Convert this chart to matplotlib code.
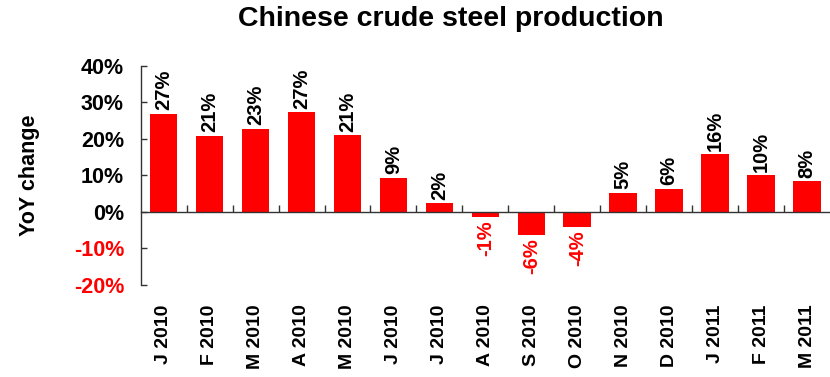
import matplotlib.pyplot as plt
import numpy as np
from matplotlib.ticker import FuncFormatter

plt.rcParams['font.family'] = ['Liberation Sans', 'DejaVu Sans']
plt.rcParams['font.weight'] = 'bold'

# Monthly year-on-year change in crude steel output (%)
months = ['J', 'F', 'M', 'A', 'M', 'J', 'J', 'A', 'S', 'O', 'N', 'D', 'J', 'F', 'M']
years = [2010] * 12 + [2011] * 3
yoy_change = [26.9, 20.8, 22.8, 27.2, 21.0, 9.3, 2.4, -1.4, -6.2, -4.1, 5.2, 6.4, 15.8, 10.0, 8.4]
y_ticks = [-20, -10, 0, 10, 20, 30, 40]

labels = [f'{m} {y}' for m, y in zip(months, years)]
x = np.arange(len(labels))
red = '#ff0000'

fig = plt.figure(figsize=(8.3, 3.77), dpi=100)
ax = fig.add_axes([0.1695, 0.244, 0.8305, 0.5817])

ax.bar(x, yoy_change, width=0.6, color=red, zorder=2)
ax.set_xlim(-0.5, len(x) - 0.5)
ax.set_ylim(y_ticks[0], y_ticks[-1])

# axis lines: zero line acts as the category axis
for side in ['top', 'right']:
    ax.spines[side].set_visible(False)
ax.spines['bottom'].set_position(('data', 0))
ax.spines['bottom'].set_zorder(3)
for side in ['left', 'bottom']:
    ax.spines[side].set_color('#333333')
    ax.spines[side].set_linewidth(1.0)

ax.set_xticks(x[:-1] + 0.5)
ax.set_xticklabels([])
ax.tick_params(axis='x', direction='in', length=5, width=1, color='#333333')

ax.set_yticks(y_ticks)
ax.yaxis.set_major_formatter(FuncFormatter(lambda v, p: f'{v:.0f}%'))
ax.tick_params(axis='y', direction='in', length=4.5, width=1, color='#333333',
               pad=12, labelsize=15.5)
for lbl, v in zip(ax.get_yticklabels(), y_ticks):
    lbl.set_color(red if v < 0 else 'black')
    lbl.set_fontweight('bold')

# category labels below the plot area
for xi, lab in zip(x, labels):
    ax.annotate(lab, (xi, 0), xycoords=('data', 'axes fraction'),
                xytext=(0, -14), textcoords='offset points',
                rotation=90, ha='center', va='top', fontsize=14,
                fontweight='bold')

# value labels
for xi, v in zip(x, yoy_change):
    if v >= 0:
        ax.annotate(f'{v:.0f}%', (xi, v), xytext=(0, 2.5), textcoords='offset points',
                    rotation=90, ha='center', va='bottom', fontsize=14.5,
                    fontweight='bold', color='black')
    else:
        ax.annotate(f'{v:.0f}%', (xi, v), xytext=(0, -2.5), textcoords='offset points',
                    rotation=90, ha='center', va='top', fontsize=14.5,
                    fontweight='bold', color=red)

fig.text(30 / 830, 0.536, 'YoY change', rotation=90, ha='center', va='center',
         fontsize=15.5, fontweight='bold')
fig.text(451 / 830, 1 - 19 / 377, 'Chinese crude steel production', ha='center',
         va='center', fontsize=20.5, fontweight='bold')

fig.savefig('out.png', dpi=100)
